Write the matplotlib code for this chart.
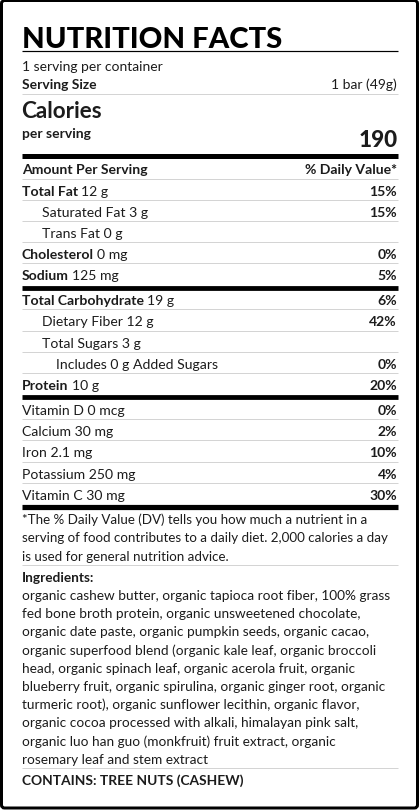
import matplotlib
matplotlib.use("Agg")
import matplotlib.pyplot as plt
from matplotlib.patches import FancyBboxPatch

# ---------------- data ----------------
title = "NUTRITION FACTS"
servings_text = "1 serving per container"
serving_size_label = "Serving Size"
serving_size_value = "1 bar (49g)"
calories_label = "Calories"
per_serving_label = "per serving"
calories_value = "190"
header_left = "Amount Per Serving"
header_right = "% Daily Value*"

nutrient_names = ["Total Fat", "Saturated Fat", "Trans Fat", "Cholesterol", "Sodium",
                  "Total Carbohydrate", "Dietary Fiber", "Total Sugars",
                  "Includes 0 g Added Sugars", "Protein"]
nutrient_amounts = ["12 g", "3 g", "0 g", "0 mg", "125 mg", "19 g", "12 g", "3 g", "", "10 g"]
nutrient_dv = ["15%", "15%", "", "0%", "5%", "6%", "42%", "", "0%", "20%"]
nutrient_indent = [0, 1, 1, 0, 0, 0, 1, 1, 2, 0]
nutrient_bold = [True, False, False, True, True, True, False, False, False, True]
thick_after = ["Sodium", "Protein"]

vitamin_names = ["Vitamin D", "Calcium", "Iron", "Potassium", "Vitamin C"]
vitamin_amounts = ["0 mcg", "30 mg", "2.1 mg", "250 mg", "30 mg"]
vitamin_dv = ["0%", "2%", "10%", "4%", "30%"]

footnote_lines = [
    "*The % Daily Value (DV) tells you how much a nutrient in a",
    "serving of food contributes to a daily diet. 2,000 calories a day",
    "is used for general nutrition advice.",
]
ingredients_label = "Ingredients:"
ingredient_lines = [
    "organic cashew butter, organic tapioca root fiber, 100% grass",
    "fed bone broth protein, organic unsweetened chocolate,",
    "organic date paste, organic pumpkin seeds, organic cacao,",
    "organic superfood blend (organic kale leaf, organic broccoli",
    "head, organic spinach leaf, organic acerola fruit, organic",
    "blueberry fruit, organic spirulina, organic ginger root, organic",
    "turmeric root), organic sunflower lecithin, organic flavor,",
    "organic cocoa processed with alkali, himalayan pink salt,",
    "organic luo han guo (monkfruit) fruit extract, organic",
    "rosemary leaf and stem extract",
]
contains_text = "CONTAINS: TREE NUTS (CASHEW)"

# ---------------- layout ----------------
W, H = 420, 812
PT = 0.72  # points per pixel at dpi 100
fig = plt.figure(figsize=(W / 100, H / 100), dpi=100)
ax = fig.add_axes([0, 0, 1, 1])
ax.set_xlim(0, W)
ax.set_ylim(H, 0)
ax.axis("off")

FONT = "Lato"
TXT = "#1c1c1c"
GREY = "#d4d4d4"
L, R = 22, 397
IND = [22, 42, 56]
ROW_PX = 14.0
SMALL_PX = 13.9
FOOT_PX = 13.35
ING_PX = 13.6

frame = FancyBboxPatch((1.5, 1.5), 416, 807.5, boxstyle="round,pad=0,rounding_size=3",
                       fill=False, ec="black", lw=3 * PT, transform=ax.transData)
ax.add_patch(frame)


def hline(y, color=GREY, px=1.0):
    ax.plot([L, R + 1], [y, y], color=color, lw=px * PT, solid_capstyle="butt")


def text(x, y, s, px, weight="normal", ha="left", color=TXT):
    return ax.text(x, y, s, fontsize=px * PT, family=FONT, fontweight=weight,
                   ha=ha, va="baseline", color=color)


def label_pair(x, y, bold_s, reg_s, px, bold=True):
    if bold:
        t = text(x, y, bold_s, px, weight="bold")
        if reg_s:
            ax.annotate(reg_s, xy=(1, y), xycoords=(t, "data"), xytext=(2.4, 0),
                        textcoords="offset points", fontsize=px * PT, family=FONT,
                        va="baseline", ha="left", color=TXT)
    else:
        s = bold_s + (" " + reg_s if reg_s else "")
        text(x, y, s, px)


# title
text(L, 48, title, 29.3, weight="black", color="black")
hline(51.5, color="black", px=1.2)
text(L, 71, servings_text, SMALL_PX)
text(L, 89, serving_size_label, SMALL_PX, weight="bold")
text(R, 89, serving_size_value, SMALL_PX, ha="right")
hline(94.5)
text(L - 0.5, 118.3, calories_label, 22.5, weight="bold")
text(L, 138.3, per_serving_label, SMALL_PX, weight="bold")
text(R + 0.5, 146.7, calories_value, 22.5, weight="black", ha="right")
hline(156.5, color="black", px=5)
text(L, 174, header_left, ROW_PX, weight="bold")
text(R, 174, header_right, ROW_PX, weight="bold", ha="right")
hline(179.5)

y = 195.7
for i, name in enumerate(nutrient_names):
    label_pair(IND[nutrient_indent[i]], y, name, nutrient_amounts[i], ROW_PX, nutrient_bold[i])
    if nutrient_dv[i]:
        text(R, y, nutrient_dv[i], ROW_PX, weight="bold", ha="right")
    if name in thick_after:
        hline(y + 8.3, color="black", px=4.8)
        y += 24.8
    else:
        hline(y + 5)
        y += 21.2

for i, name in enumerate(vitamin_names):
    label_pair(L, y, name, vitamin_amounts[i], ROW_PX, bold=False)
    text(R, y, vitamin_dv[i], ROW_PX, weight="bold", ha="right")
    if i < len(vitamin_names) - 1:
        hline(y + 5)
        y += 21.3
    else:
        hline(y + 7.4, color="black", px=5.2)

fy = 524
for s in footnote_lines:
    text(L, fy, s, FOOT_PX)
    fy += 18.4
hline(565.7)

text(L, 581.7, ingredients_label, ING_PX, weight="bold")
iy = 600
for s in ingredient_lines:
    text(L, iy, s, ING_PX)
    iy += 18.2
hline(769.3)
text(L, 785.3, contains_text, 13.75, weight="bold")

fig.savefig("out.png", dpi=100)
